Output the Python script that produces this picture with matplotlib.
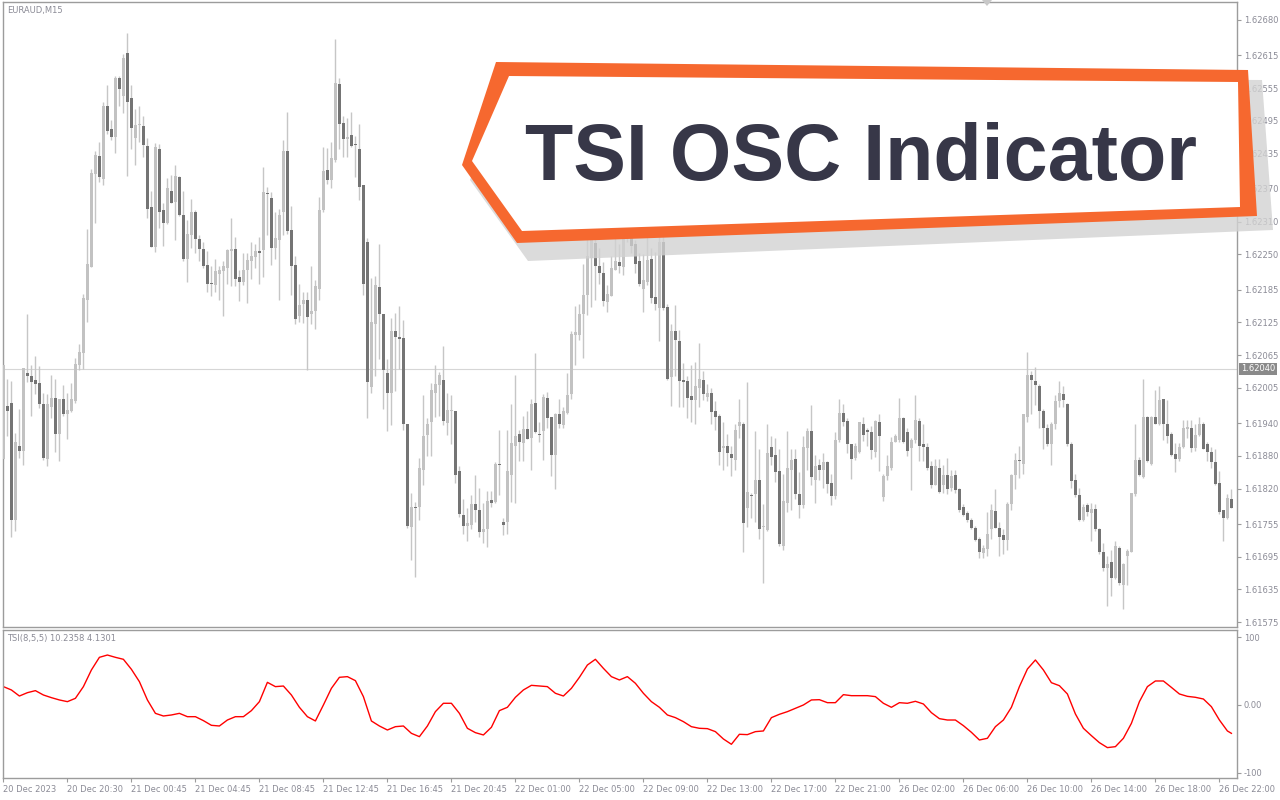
import numpy as np
import matplotlib.pyplot as plt
from matplotlib.patches import Polygon

# EURAUD M15 candles, prices in points (1e-5) above 1.60000
BASE = 1.6
opens = [1875, 1972, 1977, 1763, 1899, 1889, 2033, 2027, 2019, 2013, 1975, 1874, 1970, 1987, 1921, 1984, 1957, 1963, 1980, 2047,
         2068, 2166, 2226, 2398, 2431, 2388, 2522, 2480, 2465, 2573, 2541, 2620, 2536, 2463, 2487, 2486, 2448, 2336, 2264, 2444,
         2332, 2307, 2367, 2346, 2391, 2322, 2242, 2286, 2327, 2278, 2259, 2231, 2198, 2193, 2214, 2219, 2224, 2256, 2259, 2209,
         2199, 2221, 2238, 2245, 2256, 2257, 2362, 2354, 2262, 2276, 2327, 2440, 2294, 2231, 2137, 2158, 2167, 2140, 2146, 2186,
         2332, 2404, 2387, 2423, 2562, 2491, 2461, 2469, 2453, 2444, 2378, 2273, 2006, 2122, 2190, 2141, 2033, 1996, 2110, 2099,
         2097, 1938, 1750, 1787, 1786, 1854, 1918, 1942, 1996, 2011, 2019, 1940, 1963, 1962, 1852, 1771, 1751, 1754, 1791, 1780,
         1740, 1745, 1799, 1796, 1866, 1759, 1758, 1845, 1898, 1921, 1904, 1930, 1912, 1977, 1921, 1925, 1987, 1951, 1882, 1956,
         1937, 1959, 1993, 2101, 2101, 2140, 2176, 2243, 2271, 2229, 2215, 2162, 2174, 2222, 2235, 2227, 2289, 2294, 2268, 2238,
         2186, 2200, 2242, 2171, 2152, 2273, 2154, 2024, 2110, 2091, 2019, 2017, 1990, 1982, 2005, 2019, 1989, 1996, 1962, 1954,
         1895, 1899, 1883, 1873, 1935, 1939, 1784, 1809, 1810, 1836, 1749, 1744, 1896, 1882, 1852, 1715, 1794, 1854, 1875, 1810,
         1790, 1895, 1925, 1836, 1864, 1854, 1869, 1831, 1807, 1910, 1958, 1944, 1901, 1876, 1887, 1939, 1928, 1923, 1887, 1942,
         1805, 1843, 1857, 1906, 1910, 1949, 1924, 1894, 1909, 1944, 1901, 1897, 1861, 1826, 1857, 1826, 1845, 1821, 1845, 1819,
         1786, 1775, 1763, 1748, 1728, 1702, 1710, 1745, 1778, 1748, 1735, 1726, 1791, 1845, 1873, 1866, 1952, 2029, 2017, 2008,
         1963, 1932, 1901, 1938, 1980, 1994, 1975, 1902, 1835, 1808, 1763, 1789, 1775, 1782, 1745, 1704, 1674, 1685, 1656, 1711,
         1643, 1696, 1703, 1810, 1873, 1842, 1951, 1866, 1952, 1938, 1984, 1938, 1921, 1883, 1875, 1896, 1930, 1931, 1895, 1919,
         1939, 1901, 1887, 1869, 1831, 1780, 1766, 1801]
highs = [2047, 2022, 2017, 1922, 1966, 2042, 2141, 2047, 2064, 2045, 1996, 1994, 2029, 2022, 1984, 2010, 1996, 2013, 2059, 2085,
         2178, 2297, 2406, 2440, 2456, 2529, 2560, 2497, 2578, 2578, 2617, 2657, 2561, 2516, 2522, 2503, 2463, 2367, 2454, 2452,
         2345, 2390, 2396, 2414, 2394, 2367, 2313, 2352, 2331, 2285, 2273, 2256, 2228, 2242, 2229, 2238, 2260, 2316, 2281, 2222,
         2253, 2253, 2273, 2268, 2282, 2410, 2374, 2364, 2328, 2333, 2460, 2511, 2339, 2246, 2195, 2181, 2180, 2229, 2202, 2355,
         2447, 2445, 2456, 2645, 2573, 2504, 2501, 2512, 2467, 2489, 2378, 2280, 2207, 2210, 2268, 2141, 2057, 2133, 2143, 2155,
         2129, 1938, 1811, 1796, 1876, 1992, 1949, 2014, 2047, 2034, 2082, 1996, 1991, 1962, 1861, 1801, 1784, 1808, 1845, 1821,
         1794, 1815, 1815, 1869, 1928, 1766, 1928, 1975, 2028, 1928, 1954, 1963, 1985, 2068, 1942, 1994, 1998, 1952, 1959, 1984,
         1970, 2033, 2110, 2155, 2159, 2233, 2285, 2294, 2292, 2261, 2236, 2194, 2247, 2289, 2268, 2299, 2299, 2299, 2277, 2252,
         2250, 2282, 2262, 2254, 2299, 2301, 2158, 2122, 2157, 2111, 2050, 2026, 2047, 2052, 2087, 2036, 2012, 2005, 1980, 1956,
         1942, 1920, 1899, 1938, 1984, 1942, 2015, 1812, 1926, 1892, 1791, 1938, 1916, 1913, 1892, 1847, 1925, 1892, 1892, 1850,
         1917, 1932, 1973, 1882, 1874, 1885, 1871, 1847, 1924, 1984, 1975, 1949, 1901, 1903, 1942, 1951, 1931, 1935, 1945, 1956,
         1847, 1882, 1915, 1920, 1987, 1952, 1931, 1913, 1991, 1949, 1939, 1903, 1871, 1875, 1875, 1864, 1876, 1854, 1854, 1822,
         1791, 1779, 1766, 1752, 1731, 1717, 1777, 1791, 1819, 1759, 1745, 1796, 1847, 1885, 1899, 1957, 2071, 2036, 2043, 2012,
         1966, 1938, 1942, 1992, 2017, 2008, 1977, 1906, 1847, 1822, 1791, 1794, 1793, 1791, 1747, 1721, 1696, 1707, 1724, 1714,
         1683, 1710, 1812, 1938, 1878, 2022, 1954, 1954, 2001, 2008, 1984, 1982, 1924, 1903, 1903, 1946, 1946, 1945, 1938, 1951,
         1942, 1906, 1896, 1892, 1852, 1780, 1810, 1819]
lows = [1875, 1917, 1731, 1742, 1877, 1864, 2015, 1954, 1994, 1967, 1873, 1861, 1949, 1887, 1871, 1954, 1911, 1961, 1978, 2038,
        2040, 2125, 2226, 2308, 2382, 2378, 2470, 2459, 2435, 2522, 2510, 2393, 2444, 2414, 2456, 2429, 2316, 2264, 2254, 2299,
        2265, 2306, 2345, 2276, 2320, 2238, 2200, 2261, 2252, 2238, 2224, 2181, 2173, 2181, 2167, 2137, 2195, 2191, 2191, 2165,
        2194, 2160, 2205, 2224, 2196, 2209, 2285, 2231, 2242, 2166, 2285, 2287, 2176, 2122, 2126, 2124, 2038, 2122, 2113, 2167,
        2327, 2379, 2371, 2420, 2443, 2429, 2428, 2447, 2392, 2350, 2175, 1950, 1996, 2026, 2057, 1966, 1926, 1937, 2000, 2040,
        1928, 1747, 1689, 1657, 1763, 1826, 1880, 1880, 1952, 1954, 1937, 1919, 1902, 1831, 1768, 1736, 1724, 1745, 1759, 1731,
        1721, 1713, 1786, 1794, 1808, 1735, 1736, 1796, 1794, 1871, 1871, 1911, 1854, 1922, 1906, 1873, 1931, 1843, 1820, 1931,
        1931, 1956, 1984, 2047, 2092, 2059, 2138, 2153, 2166, 2195, 2155, 2144, 2173, 2222, 2216, 2212, 2273, 2252, 2215, 2192,
        2145, 2194, 2160, 2148, 2091, 2148, 2019, 1971, 2026, 1970, 1970, 1949, 1942, 1939, 1970, 1982, 1980, 1938, 1928, 1864,
        1854, 1861, 1843, 1854, 1913, 1703, 1749, 1766, 1759, 1728, 1647, 1742, 1864, 1833, 1714, 1707, 1777, 1780, 1801, 1766,
        1784, 1855, 1826, 1794, 1836, 1822, 1812, 1789, 1801, 1906, 1935, 1885, 1838, 1873, 1885, 1908, 1899, 1875, 1878, 1852,
        1798, 1836, 1854, 1905, 1906, 1904, 1880, 1817, 1903, 1870, 1871, 1854, 1822, 1826, 1812, 1812, 1810, 1815, 1812, 1777,
        1770, 1759, 1745, 1724, 1693, 1693, 1696, 1728, 1747, 1696, 1700, 1707, 1780, 1819, 1840, 1847, 1942, 1956, 1973, 1931,
        1892, 1899, 1864, 1929, 1970, 1970, 1898, 1822, 1805, 1761, 1761, 1770, 1724, 1742, 1700, 1668, 1605, 1622, 1654, 1643,
        1599, 1643, 1703, 1807, 1843, 1840, 1868, 1864, 1938, 1936, 1910, 1903, 1880, 1850, 1871, 1895, 1913, 1888, 1889, 1917,
        1892, 1870, 1857, 1826, 1773, 1723, 1765, 1784]
closes = [2047, 1963, 1763, 1905, 1889, 2042, 2026, 2015, 2012, 1975, 1876, 1975, 1987, 1921, 1984, 1957, 1964, 1984, 2048, 2070,
          2170, 2233, 2400, 2433, 2392, 2522, 2477, 2466, 2573, 2553, 2611, 2529, 2481, 2487, 2488, 2451, 2333, 2264, 2447, 2327,
          2307, 2371, 2345, 2394, 2323, 2242, 2287, 2327, 2278, 2259, 2228, 2195, 2195, 2219, 2222, 2228, 2257, 2259, 2205, 2200,
          2222, 2239, 2247, 2256, 2252, 2364, 2360, 2261, 2280, 2322, 2440, 2292, 2229, 2131, 2157, 2167, 2134, 2146, 2191, 2332,
          2403, 2386, 2426, 2564, 2490, 2461, 2466, 2448, 2450, 2373, 2195, 2015, 2125, 2193, 2141, 2038, 1996, 2110, 2098, 2094,
          1938, 1751, 1786, 1784, 1857, 1917, 1939, 2001, 2012, 2028, 1944, 1965, 1965, 1845, 1773, 1751, 1757, 1791, 1780, 1740,
          1746, 1798, 1794, 1866, 1864, 1754, 1852, 1903, 1916, 1905, 1930, 1911, 1975, 1924, 1918, 1989, 1950, 1882, 1957, 1939,
          1963, 1991, 2103, 2108, 2141, 2176, 2247, 2289, 2229, 2215, 2164, 2178, 2224, 2237, 2228, 2289, 2294, 2266, 2233, 2196,
          2202, 2240, 2169, 2159, 2273, 2152, 2022, 2110, 2092, 2017, 2015, 1986, 1982, 2008, 2022, 1993, 1996, 1960, 1951, 1887,
          1899, 1885, 1876, 1928, 1942, 1757, 1814, 1807, 1835, 1745, 1750, 1885, 1878, 1850, 1718, 1798, 1857, 1873, 1810, 1790,
          1896, 1925, 1841, 1861, 1854, 1868, 1829, 1807, 1909, 1959, 1942, 1901, 1874, 1899, 1942, 1918, 1924, 1891, 1944, 1916,
          1843, 1861, 1906, 1917, 1949, 1906, 1889, 1909, 1945, 1899, 1897, 1857, 1826, 1861, 1814, 1845, 1819, 1843, 1817, 1780,
          1771, 1763, 1747, 1726, 1703, 1711, 1737, 1780, 1748, 1731, 1726, 1792, 1845, 1873, 1870, 1956, 2029, 2019, 2010, 1963,
          1931, 1902, 1939, 1980, 1996, 1982, 1902, 1834, 1808, 1763, 1786, 1777, 1782, 1745, 1703, 1674, 1682, 1656, 1714, 1646,
          1681, 1705, 1812, 1873, 1845, 1952, 1871, 1952, 1939, 1982, 1938, 1916, 1882, 1874, 1897, 1932, 1933, 1895, 1919, 1938,
          1892, 1887, 1868, 1829, 1777, 1766, 1803, 1784]

price_ticks = [1.62680, 1.62615, 1.62555, 1.62495, 1.62435, 1.62370, 1.62310, 1.62250, 1.62185, 1.62125,
               1.62065, 1.62005, 1.61940, 1.61880, 1.61820, 1.61755, 1.61695, 1.61635, 1.61575]
last_price = 1.62040

# TSI(8,5,5) read every second bar
tsi_bar = list(range(0, 307, 2)) + [307]
tsi_vals = [27.0, 22.1, 13.2, 18.1, 21.1, 14.7, 10.8, 7.4, 4.9, 9.8,
            27.0, 51.5, 70.1, 73.5, 70.1, 67.2, 52.5, 34.3, 7.4, -12.3,
            -16.2, -14.7, -12.3, -17.2, -17.2, -23.0, -29.9, -30.9, -22.1, -17.2,
            -17.2, -8.3, 4.9, 33.3, 27.0, 27.9, 14.7, -3.4, -17.2, -23.5,
            0.0, 24.5, 40.7, 41.7, 35.8, 12.3, -23.5, -30.9, -36.8, -31.9,
            -30.9, -41.7, -46.6, -30.9, -9.8, 2.5, 2.5, -12.3, -34.3, -40.7,
            -44.1, -32.8, -8.3, -3.4, 11.3, 22.1, 28.9, 27.9, 27.0, 17.2,
            13.2, 24.5, 40.7, 58.8, 67.2, 53.9, 41.7, 36.8, 41.7, 31.9,
            17.2, 4.9, -3.4, -14.7, -18.6, -24.5, -31.9, -34.3, -34.8, -39.2,
            -50.0, -57.8, -43.1, -43.6, -39.2, -38.2, -18.6, -13.7, -9.8, -4.9,
            0.0, 7.4, 7.8, 3.4, 3.4, 15.2, 13.7, 13.7, 13.7, 12.3,
            2.5, -3.4, 3.4, 2.5, 5.4, 1.5, -11.3, -20.1, -22.1, -22.1,
            -30.4, -40.2, -51.5, -49.0, -31.9, -22.1, -3.4, 27.0, 52.9, 66.2,
            51.5, 32.8, 28.4, 16.2, -13.2, -34.3, -45.1, -55.4, -62.7, -61.3,
            -49.0, -27.0, 4.9, 27.0, 35.3, 35.3, 25.9, 16.2, 12.7, 11.3,
            8.8, -2.5, -22.1, -38.2, -41.7]
tsi_ticks = [100, 0, -100]
tsi_tick_labels = ['100', '0.00', '-100']

date_bars = [0, 16, 32, 48, 64, 80, 96, 112, 128, 144, 160, 176, 192, 208, 224, 240, 256, 272, 288, 304]
date_labels = ['20 Dec 2023', '20 Dec 20:30', '21 Dec 00:45', '21 Dec 04:45', '21 Dec 08:45',
               '21 Dec 12:45', '21 Dec 16:45', '21 Dec 20:45', '22 Dec 01:00', '22 Dec 05:00',
               '22 Dec 09:00', '22 Dec 13:00', '22 Dec 17:00', '22 Dec 21:00', '26 Dec 02:00',
               '26 Dec 06:00', '26 Dec 10:00', '26 Dec 14:00', '26 Dec 18:00', '26 Dec 22:00']

W, H = 1280, 800
frame_col = '#9c9c9c'
txt_col = '#8b8b96'


def fx(x):
    return x / W


def fy(y):
    return 1 - y / H


o = BASE + np.array(opens) / 1e5
h = BASE + np.array(highs) / 1e5
l = BASE + np.array(lows) / 1e5
c = BASE + np.array(closes) / 1e5
bars = np.arange(len(o))

fig = plt.figure(figsize=(12.8, 8), dpi=100)
ax = fig.add_axes([fx(3), fy(627), fx(1234), 625 / H])
ax2 = fig.add_axes([fx(3), fy(778), fx(1234), 148 / H], sharex=ax)

# candles
lo_w = np.minimum(l, np.minimum(o, c))
hi_w = np.maximum(h, np.maximum(o, c))
ax.vlines(bars, lo_w, hi_w, color='#c6c6c6', lw=1, zorder=2)
up = c >= o
body = np.maximum(np.abs(c - o), 1.6e-5)
ax.bar(bars, body, bottom=np.minimum(o, c), width=0.75,
       color=np.where(up, '#c2c2c2', '#747474'), linewidth=0, zorder=3)
ax.axhline(last_price, color='#d6d6d6', lw=0.8, zorder=1)

ax.set_xlim(-0.1, 308.4)
ax.set_ylim(1.61566, 1.62713)
ax.yaxis.tick_right()
ax.set_yticks(price_ticks)
ax.set_yticklabels([f'{p:.5f}' for p in price_ticks])
ax.tick_params(axis='y', direction='out', length=3, width=0.8, color=frame_col,
               labelcolor=txt_col, labelsize=6, pad=2)
ax.tick_params(axis='x', bottom=False, labelbottom=False)
for s in ax.spines.values():
    s.set_color(frame_col)
    s.set_linewidth(1)
ax.text(1.003, last_price, f'{last_price:.5f}', transform=ax.get_yaxis_transform(),
        ha='left', va='center', fontsize=6, color='white',
        bbox=dict(boxstyle='square,pad=0.2', fc='#8a8a8a', ec='none'), zorder=5, clip_on=False)

# TSI panel
ax2.plot(tsi_bar, tsi_vals, color='#ff0000', lw=1)
ax2.set_ylim(-107.4, 110.3)
ax2.yaxis.tick_right()
ax2.set_yticks(tsi_ticks)
ax2.set_yticklabels(tsi_tick_labels)
ax2.tick_params(axis='y', direction='out', length=3, width=0.8, color=frame_col,
                labelcolor=txt_col, labelsize=6, pad=2)
ax2.set_xticks(date_bars)
ax2.set_xticklabels(date_labels, ha='left')
ax2.tick_params(axis='x', direction='out', length=3, width=0.8, color=frame_col,
                labelcolor=txt_col, labelsize=6, pad=2)
for s in ax2.spines.values():
    s.set_color(frame_col)
    s.set_linewidth(1)

fig.text(fx(7), fy(10), 'EURAUD,M15', fontsize=6, color=txt_col, va='center')
fig.text(fx(7), fy(638), 'TSI(8,5,5) 10.2358 4.1301', fontsize=6, color=txt_col, va='center')

# small shift marker at the top
fig.add_artist(Polygon([(fx(982), fy(0)), (fx(992), fy(0)), (fx(987), fy(6))],
                       closed=True, transform=fig.transFigure, fc='#c8c8c8', ec='none'))

# banner
outer = [(462, 165), (496, 62), (1248, 70), (1257, 216), (517, 243)]
inner = [(472, 161), (509, 76), (1238, 82), (1240, 207), (522, 231)]
shadow = [(470, 180), (508, 76), (1262, 80), (1273, 230), (528, 261)]
fig.add_artist(Polygon([(fx(x), fy(y)) for x, y in shadow], closed=True, transform=fig.transFigure,
                       fc='#d2d2d2', ec='none', alpha=0.8, zorder=10))
fig.add_artist(Polygon([(fx(x), fy(y)) for x, y in outer], closed=True, transform=fig.transFigure,
                       fc='#f6682f', ec='none', zorder=11))
fig.add_artist(Polygon([(fx(x), fy(y)) for x, y in inner], closed=True, transform=fig.transFigure,
                       fc='white', ec='none', zorder=12))
title = fig.text(fx(861), fy(180), 'TSI OSC Indicator', fontsize=57, fontweight='bold',
                 family='Liberation Sans', color='#373748', ha='center', va='baseline', zorder=13)
fig.canvas.draw()
tw = title.get_window_extent().width
title.set_fontsize(57 * 672 / tw)

fig.savefig('out.png', dpi=100)
